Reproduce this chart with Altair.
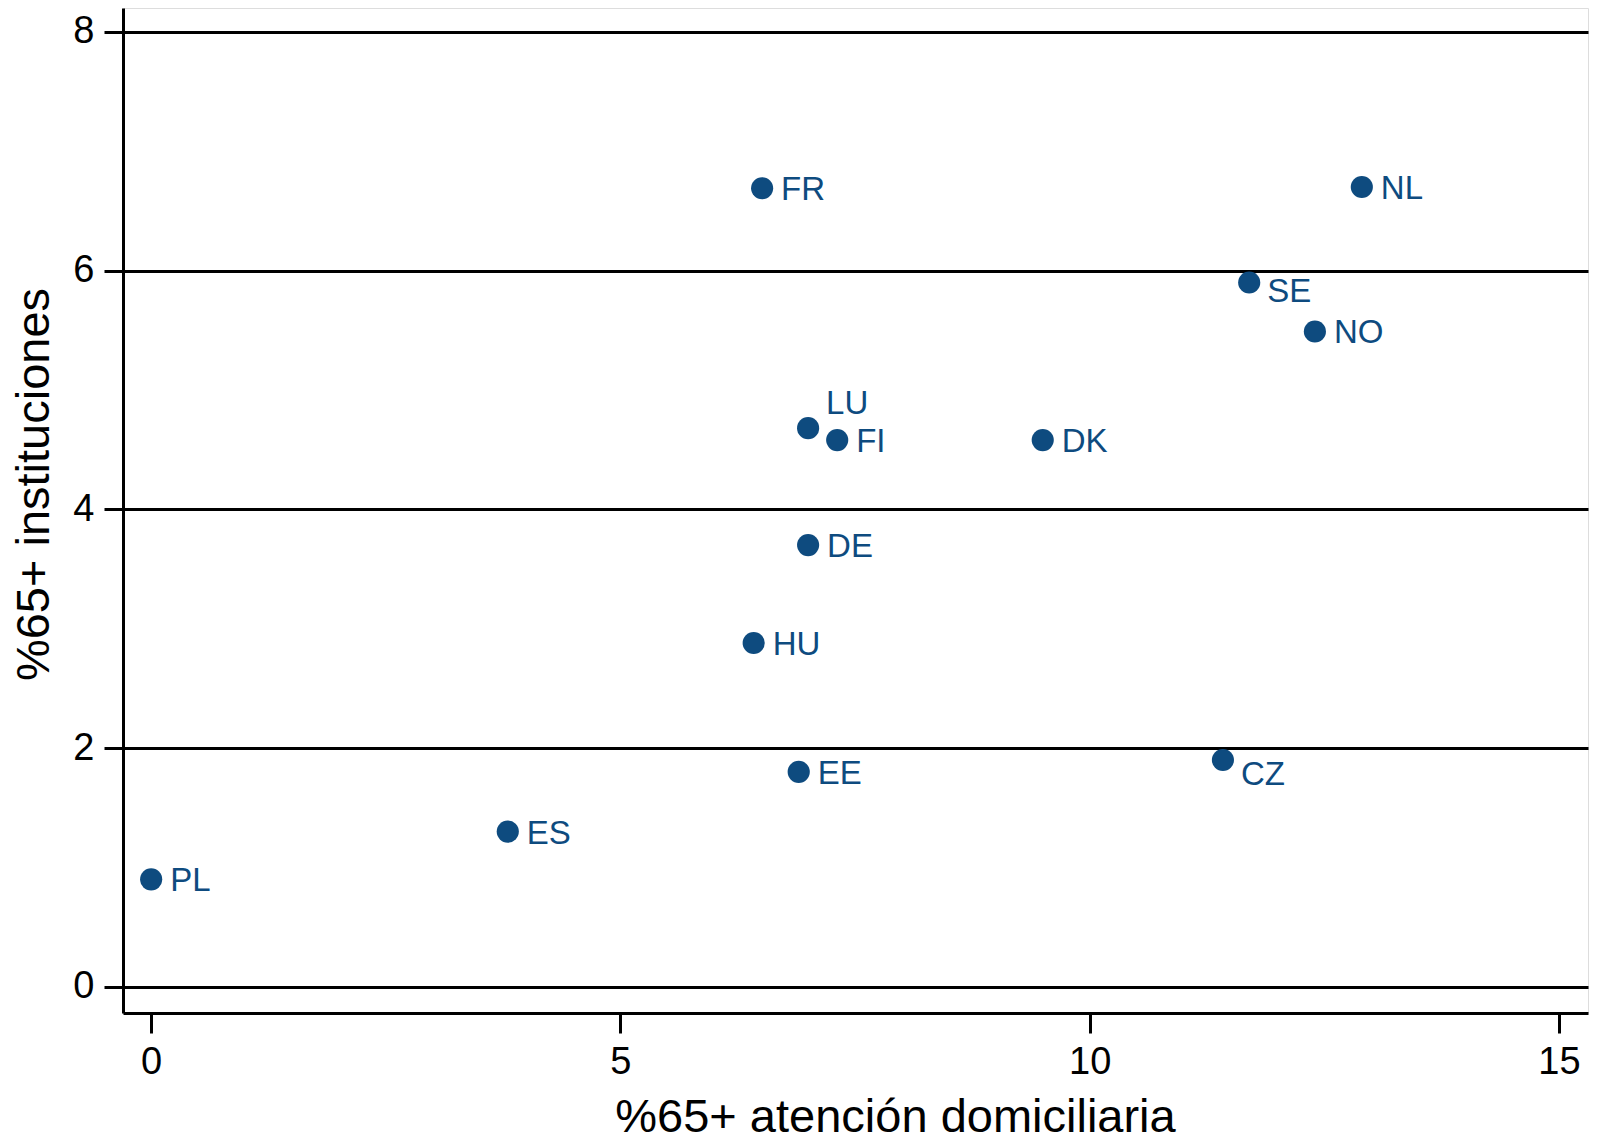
import altair as alt
import pandas as pd

# Data
countries = ["PL", "ES", "EE", "CZ", "HU", "DE", "LU", "FI", "DK", "FR", "NL", "SE", "NO"]
home_care = [0.0, 3.8, 6.9, 11.42, 6.42, 7.0, 7.0, 7.31, 9.5, 6.51, 12.9, 11.7, 12.4]
institutions = [0.9, 1.3, 1.8, 1.9, 2.88, 3.7, 4.68, 4.58, 4.58, 6.69, 6.7, 5.9, 5.49]

x_ticks = [0, 5, 10, 15]
y_ticks = [0, 2, 4, 6, 8]

df = pd.DataFrame({"pais": countries, "home": home_care, "inst": institutions})

FONT = "Liberation Sans"
BLUE = "#0e4b7f"

# label vertical offsets (px) for points whose label is not centred on the right
label_dy = {"LU": -24, "CZ": 15, "SE": 9}

x_enc = alt.X(
    "home:Q",
    scale=alt.Scale(domain=[-0.3, 15.31], nice=False, zero=False),
    axis=alt.Axis(
        values=x_ticks, format="d", grid=False, domainColor="black", domainWidth=3,
        tickColor="black", tickWidth=3, tickSize=20,
        labelFontSize=38, labelPadding=10, labelColor="black", labelFont=FONT,
        labelFlush=False,
        title="%65+ atención domiciliaria", titleFontSize=47, titleFont=FONT,
        titleFontWeight="normal", titleColor="black",
        titleX=772, titleY=118, titleAlign="center", titleBaseline="alphabetic",
    ),
)
y_enc = alt.Y(
    "inst:Q",
    scale=alt.Scale(domain=[-0.22, 8.2], nice=False, zero=False),
    axis=alt.Axis(
        values=y_ticks, format="d", grid=True, gridColor="black", gridWidth=3, gridOpacity=1,
        domainColor="black", domainWidth=3,
        tickColor="black", tickWidth=3, tickSize=19,
        labelFontSize=38, labelPadding=10, labelColor="black", labelFont=FONT,
        labelFlush=False,
        title="%65+ instituciones", titleFontSize=47, titleFont=FONT,
        titleFontWeight="normal", titleColor="black",
        titleX=-75, titleY=476, titleAngle=270, titleAlign="center",
        titleBaseline="alphabetic",
    ),
)

base = alt.Chart(df)

points = base.mark_circle(size=490, color=BLUE, opacity=1).encode(x=x_enc, y=y_enc)

special = list(label_dy.keys())
labels_default = base.transform_filter(
    ~alt.FieldOneOfPredicate(field="pais", oneOf=special)
).mark_text(
    align="left", baseline="middle", dx=19, dy=2, fontSize=33, font=FONT, color=BLUE
).encode(x="home:Q", y="inst:Q", text="pais:N")

layers = [points, labels_default]
for code, dy in label_dy.items():
    layers.append(
        base.transform_filter(alt.datum.pais == code).mark_text(
            align="left", baseline="middle", dx=18, dy=dy, fontSize=33, font=FONT, color=BLUE
        ).encode(x="home:Q", y="inst:Q", text="pais:N")
    )

chart = alt.layer(*layers).properties(
    width=1465,
    height=1005,
    autosize=alt.AutoSizeParams(type="none"),
    padding={"left": 115, "top": 0, "right": 1, "bottom": 125},
).configure_view(stroke=None).configure(background="white")

chart.save("out.html", embed_options={"renderer": "svg", "actions": False})
